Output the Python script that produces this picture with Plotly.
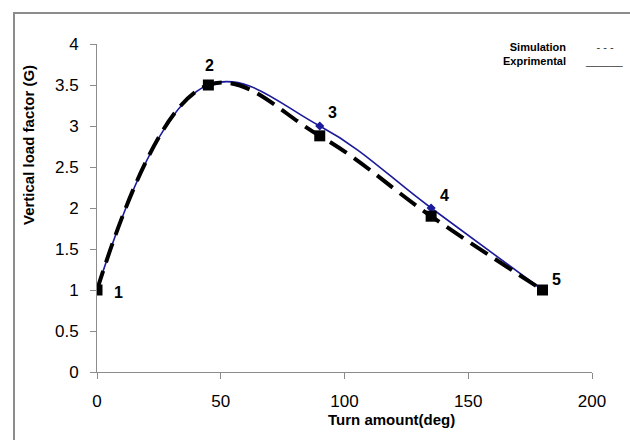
import plotly.graph_objects as go

turn_deg = [0, 45, 90, 135, 180]
simulation = [1.0, 3.5, 2.88, 1.9, 1.0]
experimental = [1.0, 3.5, 3.0, 2.0, 1.0]
point_labels = ["1", "2", "3", "4", "5"]
label_shift_x = [21, 1, 13, 13, 14]
label_shift_y = [-2, 20, 14, 13, 11]
legend_names = ["Simulation", "Exprimental"]
legend_symbols = ["- - -&nbsp;&nbsp;&nbsp;", "______"]

fig = go.Figure()
fig.add_trace(go.Scatter(
    x=turn_deg, y=experimental, mode="lines+markers",
    line=dict(color="#1a1a9a", width=1.6, shape="spline", smoothing=1.15),
    marker=dict(symbol="diamond", size=7, color="#1a1a9a"),
    showlegend=False))
fig.add_trace(go.Scatter(
    x=turn_deg, y=simulation, mode="lines+markers",
    line=dict(color="black", width=4, dash="20px,9px", shape="spline", smoothing=1.15),
    marker=dict(symbol="square", size=11, color="black"),
    showlegend=False))

for xv, yv, t, sx, sy in zip(turn_deg, experimental, point_labels, label_shift_x, label_shift_y):
    fig.add_annotation(x=xv, y=yv, text="<b>%s</b>" % t, showarrow=False,
                       xshift=sx, yshift=sy,
                       font=dict(family="Liberation Sans", size=16, color="black"))

# legend-like text
leg_font = dict(family="Liberation Sans", size=11, color="black")
sym_font = dict(family="Liberation Sans", size=11, color="#333333")
fig.add_annotation(xref="paper", yref="paper", x=(568 - 97) / 495, y=(372 - 54) / 328,
                   text="<br>".join("<b>%s</b>" % n for n in legend_names),
                   showarrow=False, xanchor="right", yanchor="middle", align="right",
                   font=leg_font)
fig.add_annotation(xref="paper", yref="paper", x=(626 - 97) / 495, y=(372 - 54) / 328,
                   text="<br>".join(legend_symbols),
                   showarrow=False, xanchor="right", yanchor="middle", align="right",
                   font=sym_font)

# axis titles
fig.add_annotation(xref="paper", yref="paper", x=(28 - 97) / 495, y=(372 - 145) / 328,
                   text="<b>Vertical load factor (G)</b>", textangle=-90, showarrow=False,
                   xanchor="center", yanchor="middle",
                   font=dict(family="Liberation Sans", size=15, color="black"))
fig.add_annotation(xref="paper", yref="paper", x=(391 - 97) / 495, y=(372 - 420) / 328,
                   text="<b>Turn amount(deg)</b>", showarrow=False,
                   xanchor="center", yanchor="middle",
                   font=dict(family="Liberation Sans", size=15, color="black"))

# outer frame
fig.add_shape(type="rect", xref="paper", yref="paper",
              x0=(14 - 97) / 495, x1=(645 - 97) / 495,
              y0=(372 - 455) / 328, y1=(372 - 13) / 328,
              line=dict(color="#8c8c8c", width=2), layer="below")

axis_common = dict(showgrid=False, zeroline=False, showline=True, linecolor="#8c8c8c",
                   linewidth=1, ticks="outside", tickcolor="#8c8c8c", ticklen=6,
                   tickfont=dict(family="Liberation Sans", size=17, color="black"))
fig.update_xaxes(range=[0, 200], tickvals=[0, 50, 100, 150, 200], ticklabelstandoff=8,
                 **axis_common)
fig.update_yaxes(range=[0, 4], tickvals=[0, 0.5, 1, 1.5, 2, 2.5, 3, 3.5, 4],
                 ticktext=["0", "0.5", "1", "1.5", "2", "2.5", "3", "3.5", "4"],
                 ticklabelstandoff=8, **axis_common)

fig.update_layout(width=630, height=440, margin=dict(l=97, r=38, t=44, b=68),
                  plot_bgcolor="white", paper_bgcolor="white")

fig.write_html("out.html")
